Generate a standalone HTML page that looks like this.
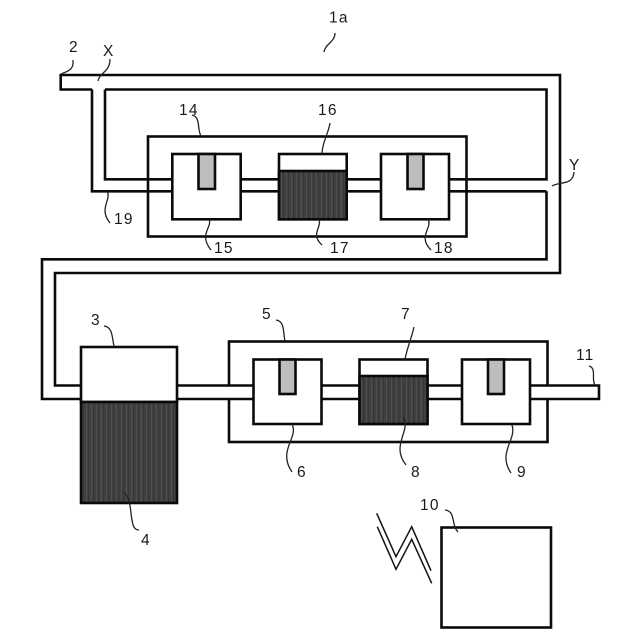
<!DOCTYPE html>
<html><head><meta charset="utf-8"><style>html,body{margin:0;padding:0;background:#fff}svg{display:block}text{font-family:"Liberation Sans",sans-serif;font-size:15.5px;fill:#1a1a1a;letter-spacing:1.2px}</style></head><body>
<svg width="640" height="640" viewBox="0 0 640 640" xmlns="http://www.w3.org/2000/svg">
<defs><pattern id="h" width="5" height="10" patternUnits="userSpaceOnUse"><rect width="5" height="10" fill="#404040"/><rect x="1" width="1" height="10" fill="#4f4f4f"/><rect x="3" width="1" height="10" fill="#363636"/></pattern></defs>
<g fill="none" stroke="#0a0a0a" stroke-width="2.6">
<rect x="148" y="136.5" width="318.5" height="100"/>
<rect x="229" y="341.5" width="318.5" height="100.5"/>
<rect x="225" y="386.5" width="8" height="11.5" fill="#fff" stroke="none"/>
<rect x="543" y="386.5" width="8" height="11.5" fill="#fff" stroke="none"/>
<path d="M92 89.5H60.7V75H560V273H55V385.5H81M92 89.5V191.3H172M105 89.5V179.3H172M105 89.5H546.5V179.3H449M546.5 191.3V259.3H42V399H81M449 191.3H546.5M240.700 179.300H279M240.700 191.300H279M346.700 179.300H381M346.700 191.300H381"/>
<path d="M177 385.500H253.500M177 399H253.500M321.500 385.500H359.500M321.500 399H359.500M427.500 385.500H462M427.500 399H462M530 385.500H599V399H530"/>
<rect x="172.300" y="154" width="68.400" height="65.300" fill="#fff"/>
<rect x="198.500" y="154" width="16.500" height="35" fill="#bdbdbd"/>
<rect x="279" y="154" width="67.700" height="65.300" fill="#fff"/>
<rect x="279" y="171" width="67.700" height="48.300" fill="url(#h)"/>
<rect x="381" y="154" width="68" height="65.300" fill="#fff"/>
<rect x="407.500" y="154" width="16" height="35" fill="#bdbdbd"/>
<rect x="81" y="347" width="96" height="55" fill="#fff"/>
<rect x="81" y="402" width="96" height="101" fill="url(#h)"/>
<rect x="253.500" y="359.500" width="68" height="64.500" fill="#fff"/>
<rect x="279.500" y="359.500" width="16" height="34.500" fill="#bdbdbd"/>
<rect x="359.500" y="359.500" width="68" height="64.500" fill="#fff"/>
<rect x="359.500" y="376" width="68" height="48" fill="url(#h)"/>
<rect x="462" y="359.500" width="68" height="64.500" fill="#fff"/>
<rect x="488" y="359.500" width="16" height="34.500" fill="#bdbdbd"/>
<rect x="441.500" y="527.500" width="109.500" height="100"/>
</g>
<g fill="none" stroke="#111" stroke-width="1.5">
<path d="M376.700 513.300L396 556.700L411.700 526.700L431 570.700M377.300 526.700L396 569.300L411.700 539.300L431.700 583.300"/>
</g>
<g fill="none" stroke="#222" stroke-width="1.300">
<path d="M324 52C325 44 335 42 335 33"/>
<path d="M61 74C68 71 74 70 73 60"/>
<path d="M98 81C100 72 110 72 110 59"/>
<path d="M192 115C201 117 197 130 201 136"/>
<path d="M330 123C328 135 323 140 322 153"/>
<path d="M107 191C112 200 98 208 110 223"/>
<path d="M209 219C213 227 198 234 211 250"/>
<path d="M319 219C322 228 310 234 322 245"/>
<path d="M428 219C433 228 417 236 431 250"/>
<path d="M552 186C560 181 573 186 574 172"/>
<path d="M104 326C113 327 112 338 114 346"/>
<path d="M276 320C285 321 283 333 285 341"/>
<path d="M292 424C299 438 277 450 292 472"/>
<path d="M414 327C411 340 408 345 405 359"/>
<path d="M403 417C412 430 390 445 406 465"/>
<path d="M512 425C517 440 497 452 511 473"/>
<path d="M589 366C597 368 591 380 595 385"/>
<path d="M445 510C456 511 451 525 458 532"/>
<path d="M123 492C131 497 130 510 132 520C133 527 135 530 139 530"/>
</g>
<text x="329" y="22.500">1a</text>
<text x="69" y="52">2</text>
<text x="103" y="56">X</text>
<text x="179" y="115">14</text>
<text x="318" y="115">16</text>
<text x="114" y="224">19</text>
<text x="214" y="253">15</text>
<text x="330" y="253">17</text>
<text x="434" y="253">18</text>
<text x="569" y="170">Y</text>
<text x="91" y="325">3</text>
<text x="262" y="319">5</text>
<text x="401" y="319">7</text>
<text x="576" y="360">11</text>
<text x="297" y="477">6</text>
<text x="411" y="477">8</text>
<text x="517" y="477">9</text>
<text x="141" y="545">4</text>
<text x="420" y="510">10</text>
</svg>
</body></html>
